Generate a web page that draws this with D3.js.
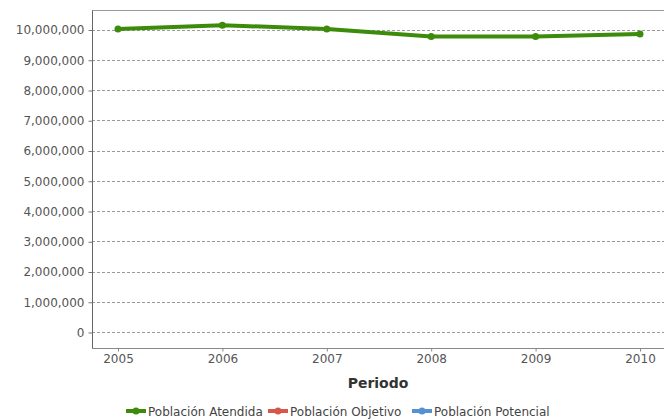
<!DOCTYPE html>
<html>
<head>
<meta charset="utf-8">
<script src="https://cdn.jsdelivr.net/npm/d3@7"></script>
<style>
  body { margin: 0; background: #fff; }
  svg { display: block; font-family: "DejaVu Sans", Verdana, sans-serif; }
</style>
</head>
<body>
<div id="chart"></div>
<script>
// ============
// Data
// ============
var years = ["2005", "2006", "2007", "2008", "2009", "2010"];
var atendida = [10020000, 10140000, 10020000, 9770000, 9770000, 9850000];
var yTicks = [0, 1000000, 2000000, 3000000, 4000000, 5000000, 6000000, 7000000, 8000000, 9000000, 10000000];
var legendNames = ["Población Atendida", "Población Objetivo", "Población Potencial"];
var legendColors = ["#3d8b0a", "#d6584c", "#5691d3"];

// ============
// Set up of svg and scales
// ============
var svgWidth = 664;
var svgHeight = 419;

var plot = { left: 92, right: 664, top: 10, bottom: 348 };

var svg = d3.select("#chart")
  .append("svg")
  .attr("width", svgWidth)
  .attr("height", svgHeight);

var xScale = d3.scalePoint()
  .domain(years)
  .range([118, 640]);

var yScale = d3.scaleLinear()
  .domain([0, 10000000])
  .range([332, 29.5]);

// gridlines
svg.append("g")
  .selectAll("line")
  .data(yTicks)
  .enter()
  .append("line")
  .attr("x1", plot.left)
  .attr("x2", plot.right)
  .attr("y1", d => Math.round(yScale(d)) + 0.5)
  .attr("y2", d => Math.round(yScale(d)) + 0.5)
  .attr("stroke", "#9a9a9a")
  .attr("stroke-dasharray", "3,2");

// top border
svg.append("line")
  .attr("x1", plot.left)
  .attr("x2", plot.right)
  .attr("y1", plot.top + 0.5)
  .attr("y2", plot.top + 0.5)
  .attr("stroke", "#999");

// y axis
var leftAxis = d3.axisLeft(yScale)
  .tickValues(yTicks)
  .tickSize(4)
  .tickPadding(4)
  .tickFormat(d3.format(","));

var yAxis = svg.append("g")
  .attr("transform", `translate(${plot.left + 0.5}, 0.5)`)
  .call(leftAxis)
  .attr("font-family", "DejaVu Sans")
  .attr("font-size", 12);
yAxis.select(".domain").remove();
yAxis.selectAll(".tick line").attr("stroke", "#777");
yAxis.selectAll(".tick text").attr("fill", "#555");
yAxis.append("line")
  .attr("x1", 0).attr("x2", 0)
  .attr("y1", plot.top).attr("y2", plot.bottom)
  .attr("stroke", "#666");

// x axis
var bottomAxis = d3.axisBottom(xScale)
  .tickSize(3)
  .tickPadding(3);

var xAxis = svg.append("g")
  .attr("transform", `translate(0, ${plot.bottom + 0.5})`)
  .call(bottomAxis)
  .attr("font-family", "DejaVu Sans")
  .attr("font-size", 12);
xAxis.select(".domain").remove();
xAxis.selectAll(".tick line").attr("stroke", "#888");
xAxis.selectAll(".tick text").attr("fill", "#555");
xAxis.append("line")
  .attr("x1", plot.left).attr("x2", plot.right)
  .attr("y1", 0).attr("y2", 0)
  .attr("stroke", "#888");

// axis title
svg.append("text")
  .attr("x", 378)
  .attr("y", 388)
  .attr("text-anchor", "middle")
  .attr("font-size", "14px")
  .attr("font-weight", "bold")
  .attr("fill", "#333")
  .text("Periodo");

// ============
// Series
// ============
var line = d3.line()
  .x((d, i) => xScale(years[i]))
  .y(d => yScale(d));

svg.append("path")
  .datum(atendida)
  .attr("fill", "none")
  .attr("stroke", legendColors[0])
  .attr("stroke-width", 4)
  .attr("stroke-linejoin", "round")
  .attr("d", line);

svg.append("g")
  .selectAll("circle")
  .data(atendida)
  .enter()
  .append("circle")
  .attr("cx", (d, i) => xScale(years[i]))
  .attr("cy", d => yScale(d))
  .attr("r", 3.5)
  .attr("fill", legendColors[0]);

// ============
// Legend
// ============
var legendX = [126, 268, 412];

var legend = svg.append("g")
  .selectAll("g")
  .data(legendNames)
  .enter()
  .append("g")
  .attr("transform", (d, i) => `translate(${legendX[i]}, 411)`);

legend.append("line")
  .attr("x1", 0).attr("x2", 20)
  .attr("y1", 0).attr("y2", 0)
  .attr("stroke", (d, i) => legendColors[i])
  .attr("stroke-width", 4);

legend.append("circle")
  .attr("cx", 10).attr("cy", 0).attr("r", 3.5)
  .attr("fill", (d, i) => legendColors[i]);

legend.append("text")
  .attr("x", 22)
  .attr("y", 4.5)
  .attr("font-size", "12px")
  .attr("fill", "#444")
  .text(d => d);
</script>
</body>
</html>
